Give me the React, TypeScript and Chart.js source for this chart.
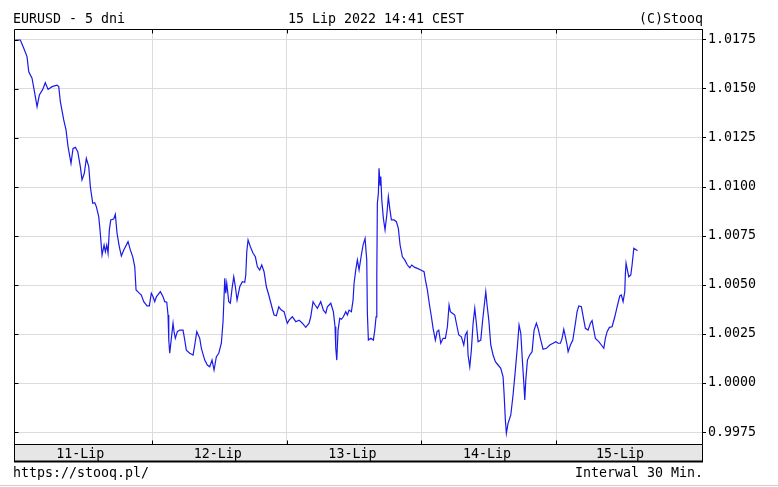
import React, { useEffect, useRef } from "react";
import { Chart, registerables } from "chart.js";

Chart.register(...registerables);

// [hours since 11-Lip 00:00, EURUSD rate]
const day11: [number, number][] = [
  [-0.36, 1.0175], [0.53, 1.0175], [1.14, 1.01708], [1.72, 1.01665], [2.03, 1.01588], [2.61, 1.01555],
  [3.1, 1.01478], [3.51, 1.0141], [3.92, 1.01469], [4.52, 1.01498], [4.98, 1.01532], [5.47, 1.01498],
  [6.18, 1.01512], [7.07, 1.0152], [7.37, 1.01512], [7.66, 1.01435], [8.26, 1.01342], [8.67, 1.01291],
  [9.03, 1.01206], [9.56, 1.01121], [9.92, 1.01197], [10.33, 1.01203], [10.76, 1.0118], [11.22, 1.01104],
  [11.52, 1.01036], [11.93, 1.0107], [12.29, 1.01146], [12.72, 1.01104], [13.0, 1.01002], [13.43, 1.00917],
  [13.79, 1.0092], [14.07, 1.009], [14.5, 1.00849], [14.73, 1.00781], [15.09, 1.00653], [15.45, 1.00704],
  [15.68, 1.0067], [15.93, 1.00704], [16.16, 1.00662], [16.39, 1.00781], [16.64, 1.00832], [17.17, 1.00837],
  [17.46, 1.00861], [17.76, 1.00764], [18.17, 1.00695], [18.53, 1.00648], [18.96, 1.00679], [19.72, 1.00721],
  [20.13, 1.00679], [20.56, 1.00644], [20.92, 1.00593], [21.15, 1.00475], [21.63, 1.00461], [22.09, 1.00449],
  [22.52, 1.00415], [23.11, 1.00394], [23.52, 1.00394], [23.87, 1.00458],
];
const day12: [number, number][] = [
  [24.18, 1.0044], [24.48, 1.00415], [24.77, 1.0044], [25.48, 1.00466], [25.96, 1.0044], [26.26, 1.00415],
  [26.62, 1.00412], [26.85, 1.00347], [26.98, 1.00219], [27.15, 1.00152], [27.44, 1.00228], [27.74, 1.00305],
  [27.92, 1.00262], [28.15, 1.00228], [28.51, 1.00262], [28.94, 1.0027], [29.52, 1.0027], [29.83, 1.00219],
  [30.11, 1.00168], [30.72, 1.00152], [31.31, 1.00143], [31.61, 1.00194], [31.97, 1.00262], [32.5, 1.00228],
  [32.79, 1.00177], [33.39, 1.00117], [33.85, 1.00092], [34.28, 1.00083], [34.69, 1.00117], [35.05, 1.00066],
  [35.46, 1.00134], [35.89, 1.00152], [36.35, 1.00203], [36.65, 1.00313], [36.96, 1.00534], [37.13, 1.00458],
  [37.31, 1.00509], [37.67, 1.00415], [37.95, 1.00407], [38.26, 1.00483], [38.56, 1.00542], [38.85, 1.00491],
  [39.15, 1.00423], [39.63, 1.00491], [40.09, 1.00517], [40.52, 1.00514], [40.7, 1.00551], [40.88, 1.0067],
  [41.11, 1.0073], [41.52, 1.00695], [42.0, 1.00662], [42.41, 1.00644], [42.77, 1.00593], [43.19, 1.00577],
  [43.55, 1.00602], [43.96, 1.00568], [44.37, 1.00491], [44.8, 1.00449], [45.26, 1.00398], [45.74, 1.00347],
  [46.15, 1.00343], [46.58, 1.00389], [47.04, 1.00372], [47.52, 1.00364], [47.93, 1.00321],
];
const day13: [number, number][] = [
  [48.11, 1.00305], [48.42, 1.00321], [49.0, 1.00338], [49.61, 1.00313], [50.2, 1.00321], [50.79, 1.00305],
  [51.39, 1.00284], [51.98, 1.00305], [52.28, 1.00338], [52.69, 1.00415], [53.05, 1.00398], [53.46, 1.00381],
  [54.06, 1.00415], [54.53, 1.00372], [54.96, 1.00356], [55.24, 1.00389], [55.85, 1.00407], [56.31, 1.00364],
  [56.61, 1.00287], [56.74, 1.00177], [56.92, 1.00117], [57.15, 1.0027], [57.45, 1.0033], [57.74, 1.00325],
  [58.09, 1.00338], [58.52, 1.00364], [58.81, 1.00347], [59.11, 1.00372], [59.52, 1.00364], [59.82, 1.00423],
  [60.0, 1.00509], [60.3, 1.00577], [60.59, 1.00628], [60.89, 1.00577], [61.3, 1.00653], [61.6, 1.00704],
  [61.96, 1.00738], [62.26, 1.00628], [62.37, 1.00356], [62.55, 1.00219], [62.98, 1.00228], [63.44, 1.00219],
  [63.69, 1.0027], [63.92, 1.00338], [64.05, 1.00542], [64.15, 1.00917], [64.33, 1.00968], [64.45, 1.01095],
  [64.63, 1.0101], [64.76, 1.01053], [64.94, 1.00934], [65.22, 1.0084], [65.52, 1.00781], [65.83, 1.00857],
  [66.11, 1.00951], [66.36, 1.00891], [66.65, 1.00832], [67.13, 1.00832], [67.54, 1.00823], [67.89, 1.00789],
  [68.2, 1.00704], [68.61, 1.00644], [69.03, 1.00628], [69.5, 1.00602], [69.93, 1.00588], [70.28, 1.00602],
  [70.82, 1.0059], [71.28, 1.00585], [71.88, 1.00577], [72.47, 1.00568],
];
const day14: [number, number][] = [
  [72.71, 1.00526], [73.06, 1.00475], [73.49, 1.00389], [73.78, 1.00338], [74.08, 1.00279], [74.49, 1.00219],
  [74.79, 1.00262], [75.09, 1.0027], [75.45, 1.00203], [75.86, 1.00228], [76.27, 1.00228], [76.63, 1.00287],
  [76.93, 1.00398], [77.16, 1.00364], [77.52, 1.00356], [77.94, 1.00347], [78.23, 1.00305], [78.66, 1.00245],
  [79.12, 1.00236], [79.55, 1.00194], [79.83, 1.00245], [80.14, 1.00262], [80.31, 1.00143], [80.62, 1.00083],
  [80.9, 1.00168], [81.21, 1.00305], [81.51, 1.00381], [81.79, 1.00305], [82.1, 1.00211], [82.58, 1.00219],
  [82.86, 1.00305], [83.17, 1.00389], [83.47, 1.00466], [83.7, 1.00398], [84.01, 1.00321], [84.36, 1.00194],
  [84.77, 1.00143], [85.18, 1.00109], [85.66, 1.00092], [86.14, 1.00075], [86.55, 1.00032], [86.73, 0.99947],
  [86.96, 0.99811], [87.14, 0.99743], [87.44, 0.99794], [87.93, 0.99837], [88.33, 0.99939], [88.74, 1.00066],
  [89.1, 1.00185], [89.4, 1.00296], [89.71, 1.00254], [89.99, 1.00117], [90.29, 0.99981], [90.42, 0.99913],
  [90.6, 1.00015], [90.89, 1.00117], [91.31, 1.00143], [91.72, 1.0016], [92.08, 1.0027], [92.49, 1.00305],
  [92.79, 1.00279], [93.27, 1.00219], [93.68, 1.00172], [94.27, 1.00177], [94.88, 1.00194], [95.46, 1.00203],
  [95.94, 1.00211],
];
const day15: [number, number][] = [
  [96.36, 1.00203], [96.77, 1.00203], [97.07, 1.00228], [97.37, 1.00274], [97.66, 1.00236], [97.96, 1.00194],
  [98.14, 1.0016], [98.55, 1.00194], [98.98, 1.00219], [99.44, 1.00305], [99.74, 1.00364], [100.05, 1.00393],
  [100.51, 1.00389], [100.94, 1.00321], [101.22, 1.00279], [101.7, 1.0027], [102.11, 1.00305], [102.41, 1.00318],
  [102.72, 1.0027], [103.0, 1.00228], [103.61, 1.00211], [104.07, 1.00194], [104.5, 1.00177], [104.78, 1.00228],
  [105.09, 1.00262], [105.5, 1.00284], [105.98, 1.00287], [106.46, 1.00338], [106.87, 1.00389], [107.35, 1.00444],
  [107.63, 1.00449], [107.94, 1.00415], [108.24, 1.00466], [108.35, 1.0056], [108.47, 1.00611], [108.7, 1.00577],
  [108.95, 1.00542], [109.31, 1.00551], [109.54, 1.00602], [109.85, 1.00687], [110.13, 1.00682], [110.49, 1.00675],
];

const yTickValues = [0.9975, 1.0, 1.0025, 1.005, 1.0075, 1.01, 1.0125, 1.015, 1.0175];
const dayBoundaryHours = [24, 48, 72, 96];
const dayLabels = ["11-Lip", "12-Lip", "13-Lip", "14-Lip", "15-Lip"];
const dayLabelHours = [11.2, 35.7, 59.7, 83.7, 107.4];

const titleLeft = "EURUSD - 5 dni";
const titleCenter = "15 Lip 2022 14:41 CEST";
const titleRight = "(C)Stooq";
const footerLeft = "https://stooq.pl/";
const footerRight = "Interwal 30 Min.";

const FONT = '13.3px "DejaVu Sans Mono", "Liberation Mono", monospace';
const BAND_H = 17;

const framePlugin = {
  id: "stooqFrame",
  afterDraw(chart: any) {
    const ctx: CanvasRenderingContext2D = chart.ctx;
    const { left, right, top, bottom } = chart.chartArea;
    const xs = chart.scales.x;
    const ys = chart.scales.y;
    const L = Math.round(left) + 0.5;
    const R = Math.round(right) + 0.5;
    const T = Math.round(top) + 0.5;
    const B = Math.round(bottom) + 0.5;
    ctx.save();
    // band
    ctx.fillStyle = "#e6e6e6";
    ctx.fillRect(L, B, R - L, BAND_H);
    ctx.strokeStyle = "#000";
    ctx.lineWidth = 1;
    ctx.beginPath();
    ctx.moveTo(L, T); ctx.lineTo(R, T);
    ctx.moveTo(L, T); ctx.lineTo(L, B + BAND_H);
    ctx.moveTo(L, B); ctx.lineTo(R, B);
    ctx.moveTo(R, B); ctx.lineTo(R, B + BAND_H);
    // day ticks
    dayBoundaryHours.forEach((h) => {
      const x = Math.round(xs.getPixelForValue(h)) + 0.5;
      ctx.moveTo(x, T); ctx.lineTo(x, T + 4);
      ctx.moveTo(x, B - 4); ctx.lineTo(x, B);
    });
    // left ticks
    yTickValues.forEach((v) => {
      const y = Math.round(ys.getPixelForValue(v)) + 0.5;
      ctx.moveTo(L, y); ctx.lineTo(L + 4, y);
    });
    ctx.stroke();
    ctx.lineWidth = 2;
    ctx.beginPath();
    ctx.moveTo(L - 0.5, B + BAND_H); ctx.lineTo(R + 0.5, B + BAND_H);
    ctx.stroke();

    ctx.fillStyle = "#000";
    ctx.font = FONT;
    ctx.textBaseline = "alphabetic";
    ctx.textAlign = "center";
    dayLabels.forEach((lab, i) => {
      ctx.fillText(lab, xs.getPixelForValue(dayLabelHours[i]), B + 13);
    });
    ctx.textAlign = "left";
    ctx.fillText(titleLeft, 13, 23);
    ctx.fillText(titleCenter, 288, 23);
    ctx.fillText(footerLeft, 13, 477);
    ctx.textAlign = "right";
    ctx.fillText(titleRight, right + 1, 23);
    ctx.fillText(footerRight, right + 1, 477);

    ctx.strokeStyle = "#cfcfcf";
    ctx.lineWidth = 1;
    ctx.beginPath();
    ctx.moveTo(0, 485.5); ctx.lineTo(chart.width, 485.5);
    ctx.stroke();
    ctx.restore();
  },
};

export default function App() {
  const ref = useRef<HTMLCanvasElement | null>(null);

  useEffect(() => {
    document.body.style.margin = "0";
    document.body.style.background = "#fff";
    const canvas = ref.current;
    if (!canvas) return;
    const points = [...day11, ...day12, ...day13, ...day14, ...day15].map(([x, y]) => ({ x, y }));
    const chart = new Chart(canvas, {
      type: "line",
      data: {
        datasets: [
          {
            data: points,
            borderColor: "#1a1ae8",
            borderWidth: 1.2,
            pointRadius: 0,
            tension: 0,
            fill: false,
          },
        ],
      },
      options: {
        responsive: false,
        animation: false,
        events: [],
        layout: { padding: { left: 14, top: 29, right: 0, bottom: 43 } },
        plugins: { legend: { display: false }, tooltip: { enabled: false }, title: { display: false } },
        scales: {
          x: {
            type: "linear",
            min: -0.6,
            max: 122,
            afterBuildTicks: (s: any) => {
              s.ticks = dayBoundaryHours.map((v) => ({ value: v }));
            },
            afterFit: (s: any) => {
              s.height = 0;
            },
            ticks: { display: false },
            grid: { color: "#dcdcdc", drawTicks: false },
            border: { display: false },
          },
          y: {
            position: "right",
            min: 0.99689,
            max: 1.01806,
            afterBuildTicks: (s: any) => {
              s.ticks = yTickValues.map((v) => ({ value: v }));
            },
            afterFit: (s: any) => {
              s.width = 76;
            },
            ticks: {
              color: "#000",
              font: { family: '"DejaVu Sans Mono", "Liberation Mono", monospace', size: 13.3 },
              padding: 2,
              callback: (v: any) => Number(v).toFixed(4),
            },
            grid: { color: "#dcdcdc", tickColor: "#000", tickLength: 4, drawTicks: true },
            border: { display: true, color: "#000", width: 1 },
          },
        },
      },
      plugins: [framePlugin],
    });
    return () => chart.destroy();
  }, []);

  return <canvas ref={ref} width={778} height={487} style={{ display: "block" }} />;
}
